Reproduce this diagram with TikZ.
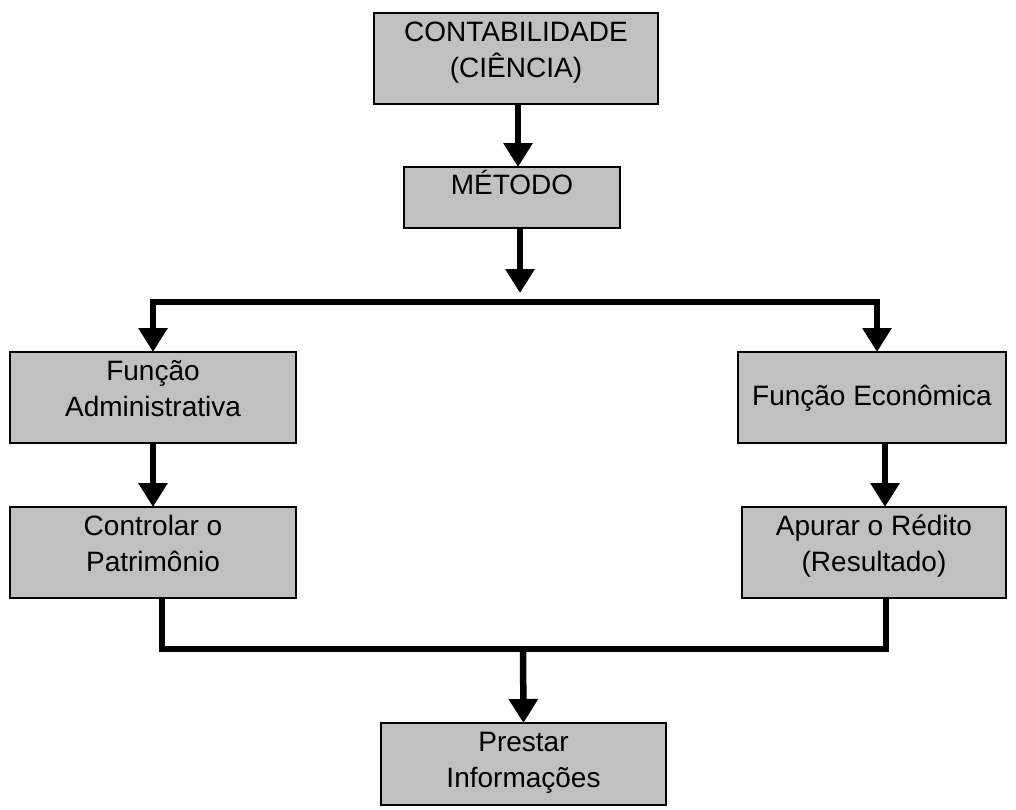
\documentclass[tikz,border=0pt]{standalone}
\usepackage{fontspec}
\setmainfont{Liberation Sans}
\usetikzlibrary{
  arrows.meta,
  positioning
}
\definecolor{boxgray}{HTML}{C0C0C0}

\begin{document}
\begin{tikzpicture}[
      x=1pt, y=-1pt,
      box/.style={
        rectangle, draw=black, line width=2.6pt, fill=boxgray,
        inner sep=0pt, outer sep=0pt,
        text height=64pt, text depth=27pt,
        font=\fontsize{28}{36}\selectfont, align=center
      },
      arrow/.style={-{Triangle[length=24pt,width=28pt]}, line width=6.5pt},
      line/.style={line width=6.5pt}
    ]
      \useasboundingbox (0,0) rectangle (1016,809);

      \node[box, minimum width=284pt] (contab) at (516,58.5) {CONTABILIDADE\\(CIÊNCIA)};
      \node[box, minimum width=216pt, text height=27pt, text depth=34pt] (metodo) at (512,197.5) {MÉTODO};
      \node[box, minimum width=286pt] (admin) at (153,397.5) {Função\\Administrativa};
      \node[box, minimum width=268pt, text height=53pt, text depth=38pt] (econ) at (872,397.5) {Função Econômica};
      \node[box, minimum width=286pt, below=64pt of admin] (ctrl) {Controlar o\\Patrimônio};
      \node[box, minimum width=264pt, below=64pt of econ, xshift=2pt] (apurar) {Apurar o Rédito\\(Resultado)};
      \node[box, minimum width=285pt, text depth=18pt] (prestar) at (523.5,764) {Prestar\\Informações};

      \coordinate (split) at (520,293);
      \coordinate (busL) at (153,302);
      \coordinate (busR) at (877,302);
      \coordinate (join) at (523,649);

      \draw[arrow] ([xshift=2pt]contab.south) -- ([xshift=6pt]metodo.north);
      \draw[arrow] ([xshift=8pt]metodo.south) -- (split);

      % branches
      \draw[line, {Triangle[length=24pt,width=28pt]}-{Triangle[length=24pt,width=28pt]}]
        (admin.north) -- (busL) -- (busR) -- (busR |- econ.north);
      \draw[arrow] (admin.south) -- (ctrl.north);
      \draw[arrow] ([xshift=13pt]econ.south) -- ([xshift=11pt]apurar.north);

      % back together
      \draw[line] ([xshift=9pt]ctrl.south) |- (join) -| ([xshift=12pt]apurar.south);
      \draw[arrow] (join) -- (prestar.north);
    \end{tikzpicture}
\end{document}
